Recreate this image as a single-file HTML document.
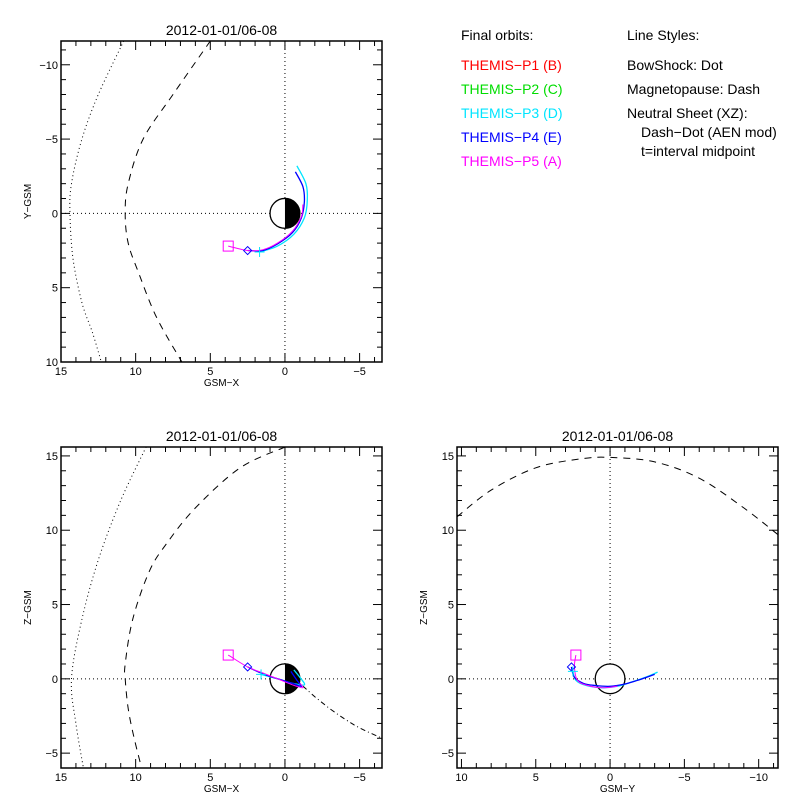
<!DOCTYPE html>
<html><head><meta charset="utf-8"><style>
body{margin:0;background:#fff}
svg text{font-family:"Liberation Sans",sans-serif}
</style></head><body>
<svg id="s" width="800" height="800" viewBox="0 0 800 800" xmlns="http://www.w3.org/2000/svg">
<rect width="800" height="800" fill="#fff"/>
<g font-size="14">
<text x="461" y="40" fill="#000">Final orbits:</text>
<text x="461" y="70" fill="#ff0000">THEMIS−P1 (B)</text>
<text x="461" y="94" fill="#00dd00">THEMIS−P2 (C)</text>
<text x="461" y="118" fill="#00e5ff">THEMIS−P3 (D)</text>
<text x="461" y="142" fill="#0000ff">THEMIS−P4 (E)</text>
<text x="461" y="166" fill="#ff00ff">THEMIS−P5 (A)</text>
<text x="627" y="40">Line Styles:</text>
<text x="627" y="70">BowShock: Dot</text>
<text x="627" y="94">Magnetopause: Dash</text>
<text x="627" y="118">Neutral Sheet (XZ):</text>
<text x="641" y="137">Dash−Dot (AEN mod)</text>
<text x="641" y="156">t=interval midpoint</text>
</g>
</svg>
<script>
// ---- data ----
const bowXY=[[10.8,-11.6],[12.5,-8],[13.6,-5],[14.3,-2],[14.4,0],[14.2,3],[13.6,6],[12.9,8],[12.3,10]];
const mpXY=[[5.0,-11.6],[7.5,-8],[9.5,-5],[10.5,-2],[10.7,0],[10.5,2],[9.8,4],[8.6,7],[6.9,10]];
const bowXZ=[[9.3,15.6],[11,12],[12.5,8],[13.6,4],[14.3,0],[14.0,-3],[13.5,-6]];
const mpXZ=[[0,15.6],[3,14.2],[6,11.5],[8,9],[9.1,7.2],[10.2,4],[10.7,1],[10.7,0],[10.5,-2],[10.1,-4],[9.6,-6]];
const nsXZ=[[-1,-0.3],[-2,-1.2],[-3,-2],[-4,-2.7],[-5,-3.3],[-6.5,-4]];
const mpYZ=[[10.3,10.9],[8,12.7],[5,14.2],[2,14.8],[0,14.9],[-3,14.6],[-6,13.5],[-9,11.5],[-11.3,9.7]];
const orbXY_P5=[[3.8,2.2],[2.5,2.5],[1.5,2.45],[0.5,2.0],[-0.5,1.2],[-1.1,0.2],[-1.2,-0.6]];
const orbXY_P4=[[2.5,2.5],[1.5,2.5],[0.5,2.05],[-0.5,1.3],[-1.1,0.3],[-1.3,-0.8],[-1.2,-1.8],[-0.7,-2.8]];
const orbXY_P3=[[1.7,2.6],[0.5,2.2],[-0.6,1.4],[-1.3,0.3],[-1.5,-0.9],[-1.4,-2.0],[-0.8,-3.2]];
const orbXZ_P5=[[3.8,1.6],[2.5,0.8],[1.5,0.4],[0.5,0],[-0.5,-0.4],[-1.2,-0.6],[-1.0,-0.3]];
const orbXZ_P4=[[2.5,0.8],[1.5,0.35],[0.5,0],[-0.5,-0.3],[-1.1,-0.5],[-0.8,-0.1],[-0.4,0.5]];
const orbXZ_P3=[[1.6,0.3],[0.5,0],[-0.5,-0.3],[-1.3,-0.4],[-1.0,0.1],[-0.6,0.6]];
const orbYZ_P5=[[2.3,1.6],[2.4,0.8],[2.2,-0.1],[1.5,-0.45],[0.5,-0.6],[-0.5,-0.5]];
const orbYZ_P4=[[2.6,0.8],[2.4,0.1],[1.8,-0.3],[1,-0.45],[0,-0.5],[-1,-0.35],[-2,-0.05],[-3.0,0.3]];
const orbYZ_P3=[[2.5,0.5],[2.3,-0.1],[1.6,-0.45],[0.5,-0.6],[-0.5,-0.5],[-1.5,-0.2],[-2.5,0.15],[-3.2,0.45]];
const title="2012-01-01/06-08";
// ---- drawing ----
const s=document.getElementById('s'),NS='http://www.w3.org/2000/svg';
function el(t,a,p){const e=document.createElementNS(NS,t);for(const k in a)e.setAttribute(k,a[k]);(p||s).appendChild(e);return e;}
function panel(name,L,T,xmin,xmax,ymin,ymax,xlab,ylab,ticksX,ticksY){
 const W=321,H=321;
 const g=el('g',{});
 
 
 const sx=v=>L+(v-xmin)/(xmax-xmin)*W, sy=v=>T+(ymax-v)/(ymax-ymin)*H;
 const cp=el('clipPath',{id:name+'c'},g);el('rect',{x:L,y:T,width:W,height:H},cp);
 const f=el('g',{'clip-path':`url(#${name}c)`},g);
 el('line',{x1:sx(0),x2:sx(0),y1:T,y2:T+H,stroke:'#000','stroke-dasharray':'1 3'},f);
 el('line',{y1:sy(0),y2:sy(0),x1:L,x2:L+W,stroke:'#000','stroke-dasharray':'1 3'},f);
 const t=el('text',{x:L+W/2,y:T-6,'text-anchor':'middle','font-size':14},g);t.textContent=title;
 
 el('rect',{x:L,y:T,width:W,height:H,fill:'none',stroke:'#000','stroke-width':1.5},g);
 let lo=Math.min(xmin,xmax),hi=Math.max(xmin,xmax);
 for(let v=Math.ceil(lo);v<=hi;v++){const X=sx(v),m=v%5==0?9:5;
  el('line',{x1:X,x2:X,y1:T+H,y2:T+H-m,stroke:'#000'},g);el('line',{x1:X,x2:X,y1:T,y2:T+m,stroke:'#000'},g);}
 lo=Math.min(ymin,ymax);hi=Math.max(ymin,ymax);
 for(let v=Math.ceil(lo);v<=hi;v++){const Y=sy(v),m=v%5==0?9:5;
  el('line',{y1:Y,y2:Y,x1:L,x2:L+m,stroke:'#000'},g);el('line',{y1:Y,y2:Y,x1:L+W,x2:L+W-m,stroke:'#000'},g);}
 ticksX.forEach(v=>{const e=el('text',{x:sx(v),y:T+H+13,'text-anchor':'middle','font-size':11},g);e.textContent=v<0?'−'+(-v):v;});
 ticksY.forEach(v=>{const e=el('text',{x:L-3,y:sy(v)+4,'text-anchor':'end','font-size':11},g);e.textContent=v<0?'−'+(-v):v;});
 const xl=el('text',{x:L+W/2,y:T+H+24,'text-anchor':'middle','font-size':10},g);xl.textContent=xlab;
 
 const yl=el('text',{x:0,y:0,'text-anchor':'middle','font-size':10,transform:`translate(${L-30},${T+H/2}) rotate(-90)`},g);yl.textContent=ylab;
 
 return {f,sx,sy};
}
function line(P,pts,col,dash,name,w){
 const q=pts.map(p=>[P.sx(p[0]),P.sy(p[1])]);
 let d='M'+q[0][0].toFixed(1)+' '+q[0][1].toFixed(1);
 for(let i=0;i<q.length-1;i++){
  const p0=q[Math.max(0,i-1)],p1=q[i],p2=q[i+1],p3=q[Math.min(q.length-1,i+2)];
  const c1=[p1[0]+(p2[0]-p0[0])/6,p1[1]+(p2[1]-p0[1])/6],c2=[p2[0]-(p3[0]-p1[0])/6,p2[1]-(p3[1]-p1[1])/6];
  d+=` C${c1[0].toFixed(1)} ${c1[1].toFixed(1)} ${c2[0].toFixed(1)} ${c2[1].toFixed(1)} ${p2[0].toFixed(1)} ${p2[1].toFixed(1)}`;
 }
 const e=el('path',{d,fill:'none',stroke:col,'stroke-width':w||1,'stroke-dasharray':dash||'none'},P.f);
 
 
}
function earth(P,half){
 const cx=P.sx(0),cy=P.sy(0),r=Math.abs(P.sx(1)-P.sx(0));
 el('circle',{cx,cy,r,fill:'#fff',stroke:'#000','stroke-width':1.3},P.f);
 if(half)el('path',{d:`M${cx} ${cy-r} A${r} ${r} 0 0 1 ${cx} ${cy+r} Z`,fill:'#000'},P.f);
}
function marks(P,sq,di,pl){
 el('rect',{x:P.sx(sq[0])-5,y:P.sy(sq[1])-5,width:10,height:10,fill:'none',stroke:'#ff00ff'},P.f);
 const x=P.sx(di[0]),y=P.sy(di[1]);
 el('path',{d:`M${x-4} ${y}L${x} ${y-4}L${x+4} ${y}L${x} ${y+4}Z`,fill:'none',stroke:'#0000ff'},P.f);
 const a=P.sx(pl[0]),b=P.sy(pl[1]);
 el('path',{d:`M${a-5} ${b}H${a+5}M${a} ${b-5}V${b+5}`,stroke:'#00e5ff'},P.f);
}
const P1=panel('panel-xy',61,41,15,-6.5,10.0,-11.6,'GSM−X','Y−GSM',[15,10,5,0,-5],[-10,-5,0,5,10]);
line(P1,bowXY,'#000','1 3','bow-shock-xy');
line(P1,mpXY,'#000','7 6','magnetopause-xy');
earth(P1,true);
line(P1,orbXY_P3,'#00e5ff','','orbit-p3-xy',1.3);
line(P1,orbXY_P4,'#0000ff','','orbit-p4-xy',1.3);
line(P1,orbXY_P5,'#ff00ff','','orbit-p5-xy',1);
marks(P1,orbXY_P5[0],orbXY_P4[0],orbXY_P3[0]);

const P2=panel('panel-xz',61,447,15,-6.5,-6.0,15.6,'GSM−X','Z−GSM',[15,10,5,0,-5],[-5,0,5,10,15]);
line(P2,bowXZ,'#000','1 3','bow-shock-xz');
line(P2,mpXZ,'#000','7 6','magnetopause-xz');
line(P2,nsXZ,'#000','1 3 5 3','neutral-sheet-xz');
earth(P2,true);
line(P2,orbXZ_P3,'#00e5ff','','orbit-p3-xz',1.3);
line(P2,orbXZ_P4,'#0000ff','','orbit-p4-xz',1.3);
line(P2,orbXZ_P5,'#ff00ff','','orbit-p5-xz',1);
marks(P2,orbXZ_P5[0],orbXZ_P4[0],orbXZ_P3[0]);

const P3=panel('panel-yz',457,447,10.3,-11.3,-6.0,15.6,'GSM−Y','Z−GSM',[10,5,0,-5,-10],[-5,0,5,10,15]);
line(P3,mpYZ,'#000','7 6','magnetopause-yz');
earth(P3,false);
line(P3,orbYZ_P3,'#00e5ff','','orbit-p3-yz',1.3);
line(P3,orbYZ_P4,'#0000ff','','orbit-p4-yz',1.3);
line(P3,orbYZ_P5,'#ff00ff','','orbit-p5-yz',1);
marks(P3,orbYZ_P5[0],orbYZ_P4[0],orbYZ_P3[0]);
</script>
</body></html>
